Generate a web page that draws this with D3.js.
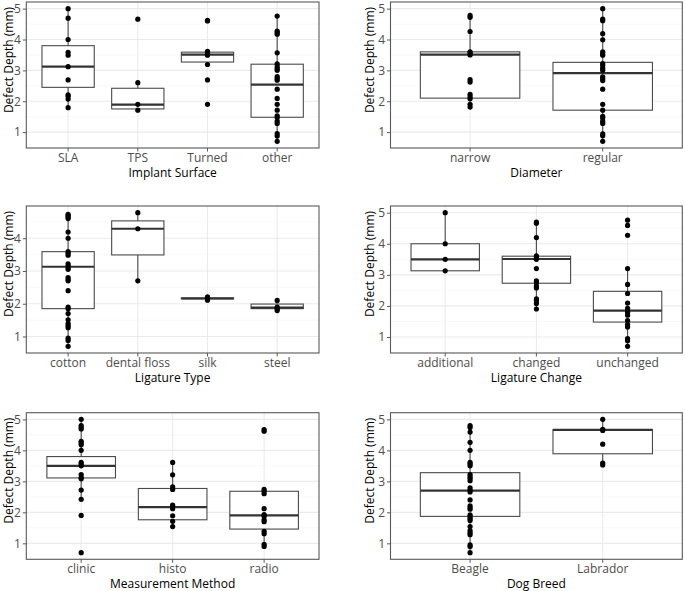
<!DOCTYPE html>
<html><head><meta charset="utf-8">
<script src="https://cdn.jsdelivr.net/npm/d3@7"></script>
<style>body{margin:0;background:#fff}svg{display:block}text{font-family:"Open Sans",sans-serif}</style>
</head><body><svg id="c" width="685" height="591"></svg>
<script>
// ---------- data ----------
const yTickValues = [1, 2, 3, 4, 5];

const surfaceCats = ["SLA", "TPS", "Turned", "other"];
const surfacePoints = [
  [5.0, 4.69, 4.0, 3.58, 3.49, 3.12, 2.69, 2.21, 2.16, 2.07, 1.79],
  [4.66, 2.60, 1.90, 1.71],
  [4.62, 4.60, 3.62, 3.55, 3.49, 3.19, 2.69, 1.90],
  [4.76, 4.27, 4.22, 4.17, 3.57, 3.21, 3.12, 3.05, 3.0, 2.80, 2.74, 2.68, 2.39, 2.09, 1.90, 1.71, 1.53, 1.47, 1.36, 1.28, 0.95, 0.87, 0.70]
];
// [lower whisker, q1, median, q3, upper whisker]
const surfaceBoxes = [
  [1.79, 2.45, 3.12, 3.80, 5.0],
  [1.71, 1.75, 1.89, 2.42, 2.60],
  [3.19, 3.27, 3.51, 3.59, 3.62],
  [0.70, 1.48, 2.54, 3.20, 4.76]
];

const diameterCats = ["narrow", "regular"];
const diameterPoints = [
  [4.78, 4.72, 4.26, 3.60, 3.56, 3.50, 2.70, 2.62, 2.22, 2.14, 2.08, 1.90, 1.81],
  [5.0, 4.66, 4.61, 4.19, 3.99, 3.60, 3.54, 3.49, 3.22, 3.16, 3.07, 3.0, 2.79, 2.73, 2.67, 2.39, 1.90, 1.71, 1.51, 1.46, 1.35, 1.28, 0.94, 0.88, 0.70]
];
const diameterBoxes = [
  [1.81, 2.10, 3.51, 3.60, 4.78],
  [0.70, 1.71, 2.91, 3.26, 5.0]
];

const ligTypeCats = ["cotton", "dental floss", "silk", "steel"];
const ligTypePoints = [
  [4.73, 4.69, 4.65, 4.60, 4.19, 4.0, 3.59, 3.54, 3.48, 3.22, 3.16, 3.11, 3.05, 2.80, 2.74, 2.70, 2.40, 1.90, 1.85, 1.70, 1.51, 1.39, 1.33, 1.27, 0.95, 0.88, 0.70],
  [4.78, 4.29, 2.70],
  [2.21, 2.16, 2.11],
  [2.10, 1.90, 1.84, 1.79]
];
const ligTypeBoxes = [
  [0.70, 1.85, 3.13, 3.59, 4.73],
  [2.70, 3.49, 4.29, 4.53, 4.78],
  [2.13, 2.15, 2.16, 2.18, 2.20],
  [1.80, 1.85, 1.88, 1.99, 2.10]
];

const ligChangeCats = ["additional", "changed", "unchanged"];
const ligChangePoints = [
  [5.0, 4.0, 3.5, 3.13],
  [4.70, 4.66, 4.20, 3.61, 3.56, 3.50, 3.20, 2.81, 2.74, 2.64, 2.58, 2.23, 2.16, 2.08, 1.90],
  [4.76, 4.59, 4.27, 3.20, 2.69, 2.40, 2.09, 1.92, 1.86, 1.79, 1.70, 1.53, 1.40, 1.32, 0.95, 0.88, 0.70]
];
const ligChangeBoxes = [
  [3.13, 3.13, 3.50, 4.0, 5.0],
  [1.90, 2.73, 3.51, 3.60, 4.70],
  [0.70, 1.48, 1.85, 2.47, 3.20]
];

const methodCats = ["clinic", "histo", "radio"];
const methodPoints = [
  [5.0, 4.80, 4.74, 4.69, 4.29, 4.24, 4.18, 4.0, 3.61, 3.56, 3.50, 3.22, 3.13, 3.08, 2.72, 2.42, 1.90, 0.70],
  [3.61, 3.21, 2.82, 2.74, 2.23, 2.18, 2.12, 1.89, 1.71, 1.54],
  [4.67, 4.62, 2.74, 2.68, 2.60, 2.12, 1.93, 1.87, 1.76, 1.70, 1.39, 1.31, 0.97, 0.90]
];
const methodBoxes = [
  [2.42, 3.11, 3.50, 3.80, 5.0],
  [1.54, 1.76, 2.17, 2.77, 3.61],
  [0.90, 1.46, 1.90, 2.68, 2.74]
];

const breedCats = ["Beagle", "Labrador"];
const breedPoints = [
  [4.80, 4.74, 4.59, 4.26, 4.0, 3.61, 3.56, 3.50, 3.22, 3.15, 3.09, 3.02, 2.79, 2.72, 2.66, 2.40, 2.21, 2.15, 2.10, 1.92, 1.86, 1.80, 1.74, 1.54, 1.41, 1.34, 1.28, 0.95, 0.90, 0.70],
  [5.0, 4.68, 4.64, 4.20, 3.59, 3.53]
];
const breedBoxes = [
  [0.70, 1.87, 2.70, 3.28, 4.80],
  [3.53, 3.89, 4.66, 4.67, 5.0]
];

const xTitles = ["Implant Surface", "Diameter", "Ligature Type", "Ligature Change", "Measurement Method", "Dog Breed"];
const yTitle = "Defect Depth (mm)";

// ---------- layout ----------
const colX = [[26.3, 319], [390.5, 682.3]];
const rowY = [[2, 148], [206, 353], [412.7, 559.3]];

const panels = [
  {cats: surfaceCats, pts: surfacePoints, box: surfaceBoxes, title: xTitles[0], c: 0, r: 0},
  {cats: diameterCats, pts: diameterPoints, box: diameterBoxes, title: xTitles[1], c: 1, r: 0},
  {cats: ligTypeCats, pts: ligTypePoints, box: ligTypeBoxes, title: xTitles[2], c: 0, r: 1},
  {cats: ligChangeCats, pts: ligChangePoints, box: ligChangeBoxes, title: xTitles[3], c: 1, r: 1},
  {cats: methodCats, pts: methodPoints, box: methodBoxes, title: xTitles[4], c: 0, r: 2},
  {cats: breedCats, pts: breedPoints, box: breedBoxes, title: xTitles[5], c: 1, r: 2}
];

const svg = d3.select("#c");
const gridMajor = "#ebebeb", gridMinor = "#f4f4f4";
const border = "#595959", boxCol = "#4a4a4a";
const fs = "12px";

panels.forEach(p => {
  const [x0, x1] = colX[p.c];
  const [y0, y1] = rowY[p.r];
  const n = p.cats.length;
  const xs = d3.scaleLinear().domain([0.4, n + 0.6]).range([x0, x1]);
  const xc = i => xs(i + 1);
  const all = p.pts.flat().concat(p.box.flat());
  const [mn, mx] = d3.extent(all);
  const pad = (mx - mn) * 0.05;
  const ys = d3.scaleLinear().domain([mn - pad, mx + pad]).range([y1, y0]);
  const ticks = yTickValues.filter(v => v >= ys.domain()[0] && v <= ys.domain()[1]);
  const minor = d3.range(0.5, 5.6, 1).filter(v => v >= ys.domain()[0] && v <= ys.domain()[1]);

  const g = svg.append("g");
  g.selectAll(".mn").data(minor).join("line")
    .attr("x1", x0).attr("x2", x1).attr("y1", d => ys(d)).attr("y2", d => ys(d))
    .attr("stroke", gridMinor).attr("stroke-width", 0.6);
  g.selectAll(".mj").data(ticks).join("line")
    .attr("x1", x0).attr("x2", x1).attr("y1", d => ys(d)).attr("y2", d => ys(d))
    .attr("stroke", gridMajor).attr("stroke-width", 1.1);
  g.selectAll(".vx").data(p.cats).join("line")
    .attr("x1", (d, i) => xc(i)).attr("x2", (d, i) => xc(i)).attr("y1", y0).attr("y2", y1)
    .attr("stroke", gridMajor).attr("stroke-width", 1.1);

  const bw = (xs(1.75) - xs(1));
  p.box.forEach((b, i) => {
    const cx = xc(i);
    g.append("line").attr("x1", cx).attr("x2", cx).attr("y1", ys(b[0])).attr("y2", ys(b[1]))
      .attr("stroke", boxCol).attr("stroke-width", 1.1);
    g.append("line").attr("x1", cx).attr("x2", cx).attr("y1", ys(b[3])).attr("y2", ys(b[4]))
      .attr("stroke", boxCol).attr("stroke-width", 1.1);
    g.append("rect").attr("x", cx - bw / 2).attr("width", bw)
      .attr("y", ys(b[3])).attr("height", Math.max(0.5, ys(b[1]) - ys(b[3])))
      .attr("fill", "#fff").attr("stroke", boxCol).attr("stroke-width", 1.1);
    g.append("line").attr("x1", cx - bw / 2).attr("x2", cx + bw / 2).attr("y1", ys(b[2])).attr("y2", ys(b[2]))
      .attr("stroke", "#333").attr("stroke-width", 2.2);
  });
  p.pts.forEach((arr, i) => {
    g.selectAll(null).data(arr).join("circle")
      .attr("cx", xc(i)).attr("cy", d => ys(d)).attr("r", 2.6).attr("fill", "#000");
  });
  g.append("rect").attr("x", x0).attr("y", y0).attr("width", x1 - x0).attr("height", y1 - y0)
    .attr("fill", "none").attr("stroke", border).attr("stroke-width", 1.1);

  const ya = d3.axisLeft(ys).tickValues(ticks).tickFormat(d3.format("d")).tickSize(3.5).tickPadding(2);
  const yg = svg.append("g").attr("transform", `translate(${x0},0)`).call(ya);
  yg.select(".domain").remove();
  yg.selectAll("line").attr("stroke", border);
  yg.selectAll("text").attr("fill", "#4d4d4d").style("font-size", fs).style("font-family", '"Open Sans",sans-serif');

  const xb = d3.scaleBand().domain(p.cats).range([xs(0.5), xs(n + 0.5)]);
  const xa = d3.axisBottom(xb).tickSize(3.5).tickPadding(1.5);
  const xg = svg.append("g").attr("transform", `translate(0,${y1})`).call(xa);
  xg.select(".domain").remove();
  xg.selectAll("line").attr("stroke", border);
  xg.selectAll("text").attr("fill", "#4d4d4d").style("font-size", fs).style("font-family", '"Open Sans",sans-serif');

  svg.append("text").attr("x", (x0 + x1) / 2).attr("y", y1 + 29)
    .attr("text-anchor", "middle").attr("fill", "#000").style("font-size", fs).text(p.title);
  const tx = p.c === 0 ? 12.5 : 374;
  svg.append("text").attr("transform", `translate(${tx},${y0 + 58}) rotate(-90)`)
    .attr("text-anchor", "middle").attr("fill", "#000").style("font-size", fs).text(yTitle);
});
</script></body></html>
